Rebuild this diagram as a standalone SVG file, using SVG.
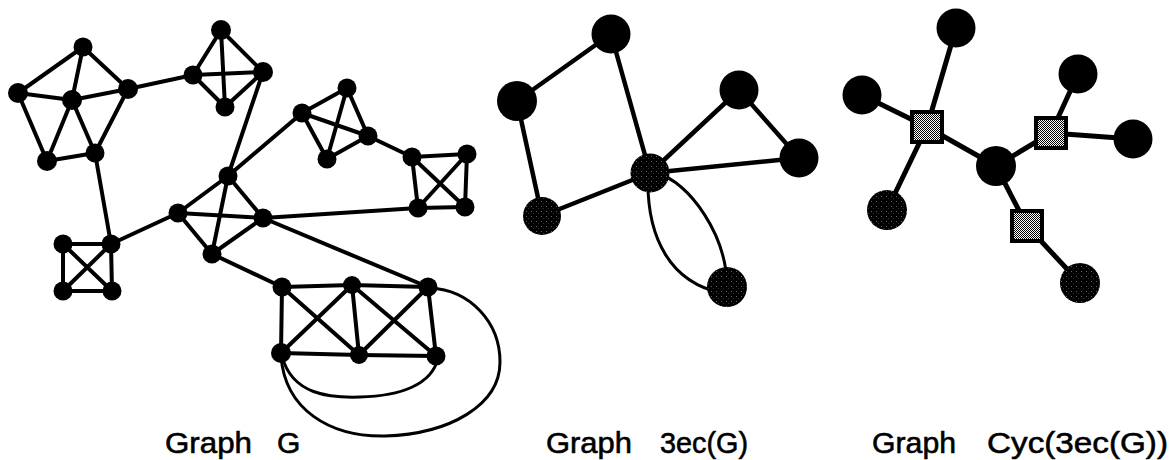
<svg xmlns="http://www.w3.org/2000/svg" width="1173" height="460" viewBox="0 0 1173 460">
<defs>
<pattern id="stip" width="5" height="5" patternUnits="userSpaceOnUse">
<rect width="5" height="5" fill="#000"/>
<rect x="1" y="1" width="1" height="1" fill="#666"/>
<rect x="3" y="3" width="1" height="1" fill="#333"/>
</pattern>
<pattern id="check" width="2" height="2" patternUnits="userSpaceOnUse">
<rect width="2" height="2" fill="#fff"/>
<rect width="1" height="1" fill="#000"/>
<rect x="1" y="1" width="1" height="1" fill="#000"/>
</pattern>
</defs>
<style>
.e{stroke:#000;stroke-width:4;stroke-linecap:round;fill:none}
.m{stroke-width:4.5}
.r{stroke-width:5}
.c{stroke:#000;stroke-width:3;fill:none}
.n{fill:#000}
.b{fill:#000}
.g{fill:url(#stip)}
.sq{fill:url(#check);stroke:#000;stroke-width:4}
.t{font-family:"Liberation Sans",Arial,sans-serif;font-size:30px;fill:#000;stroke:#000;stroke-width:0.6}
</style>
<g id="connectors">
<g class="e">
<line x1="83" y1="47" x2="18" y2="93"/>
<line x1="83" y1="47" x2="72" y2="100"/>
<line x1="83" y1="47" x2="128" y2="89"/>
<line x1="18" y1="93" x2="72" y2="100"/>
<line x1="18" y1="93" x2="47" y2="161"/>
<line x1="72" y1="100" x2="47" y2="161"/>
<line x1="72" y1="100" x2="95" y2="153"/>
<line x1="72" y1="100" x2="128" y2="89"/>
<line x1="128" y1="89" x2="95" y2="153"/>
<line x1="47" y1="161" x2="95" y2="153"/>
<line x1="128" y1="89" x2="193" y2="75"/>
<line x1="221" y1="30" x2="193" y2="75"/>
<line x1="221" y1="30" x2="263" y2="72"/>
<line x1="221" y1="30" x2="225" y2="107"/>
<line x1="193" y1="75" x2="263" y2="72"/>
<line x1="193" y1="75" x2="225" y2="107"/>
<line x1="263" y1="72" x2="225" y2="107"/>
<line x1="263" y1="72" x2="228" y2="176"/>
<line x1="95" y1="153" x2="111" y2="244"/>
<line x1="63" y1="244" x2="111" y2="244"/>
<line x1="63" y1="244" x2="63" y2="291"/>
<line x1="111" y1="244" x2="112" y2="291"/>
<line x1="63" y1="291" x2="112" y2="291"/>
<line x1="63" y1="244" x2="112" y2="291"/>
<line x1="111" y1="244" x2="63" y2="291"/>
<line x1="111" y1="244" x2="178" y2="213"/>
<line x1="228" y1="176" x2="178" y2="213"/>
<line x1="228" y1="176" x2="263" y2="218"/>
<line x1="228" y1="176" x2="212" y2="254"/>
<line x1="178" y1="213" x2="263" y2="218"/>
<line x1="178" y1="213" x2="212" y2="254"/>
<line x1="263" y1="218" x2="212" y2="254"/>
<line x1="228" y1="176" x2="302" y2="113"/>
<line x1="302" y1="113" x2="347" y2="88"/>
<line x1="302" y1="113" x2="368" y2="136"/>
<line x1="302" y1="113" x2="327" y2="159"/>
<line x1="347" y1="88" x2="368" y2="136"/>
<line x1="347" y1="88" x2="327" y2="159"/>
<line x1="368" y1="136" x2="327" y2="159"/>
<line x1="368" y1="136" x2="412" y2="157"/>
<line x1="412" y1="157" x2="467" y2="154"/>
<line x1="412" y1="157" x2="418" y2="208"/>
<line x1="467" y1="154" x2="465" y2="207"/>
<line x1="418" y1="208" x2="465" y2="207"/>
<line x1="412" y1="157" x2="465" y2="207"/>
<line x1="467" y1="154" x2="418" y2="208"/>
<line x1="263" y1="218" x2="418" y2="208"/>
<line x1="212" y1="254" x2="282" y2="287"/>
<line x1="263" y1="218" x2="428" y2="287"/>
<line x1="282" y1="287" x2="352" y2="285"/>
<line x1="352" y1="285" x2="428" y2="287"/>
<line x1="282" y1="287" x2="281" y2="353"/>
<line x1="281" y1="353" x2="359" y2="355"/>
<line x1="359" y1="355" x2="436" y2="356"/>
<line x1="428" y1="287" x2="436" y2="356"/>
<line x1="282" y1="287" x2="359" y2="355"/>
<line x1="352" y1="285" x2="281" y2="353"/>
<line x1="352" y1="285" x2="359" y2="355"/>
<line x1="352" y1="285" x2="436" y2="356"/>
<line x1="428" y1="287" x2="359" y2="355"/>
</g>
<path class="c" d="M282,356 C292,395 330,398 360,397 C400,396 432,385 438,358"/>
<path class="c" d="M281,356 C285,410 330,437 385,436 C450,434 500,405 500,362 C500,322 470,290 430,288"/>
<g class="e m">
<line x1="611" y1="34" x2="517" y2="101"/>
<line x1="611" y1="34" x2="650" y2="173"/>
<line x1="517" y1="101" x2="542" y2="216"/>
<line x1="542" y1="216" x2="650" y2="173"/>
<line x1="650" y1="173" x2="739" y2="90"/>
<line x1="739" y1="90" x2="799" y2="158"/>
<line x1="650" y1="173" x2="799" y2="158"/>
</g>
<path class="c" d="M648,175 C646,240 672,283 722,293"/>
<path class="c" d="M655,172 C692,184 726,236 727,285"/>
<g class="e r">
<line x1="927" y1="127" x2="956" y2="28"/>
<line x1="927" y1="127" x2="862" y2="95"/>
<line x1="927" y1="127" x2="887" y2="210"/>
<line x1="927" y1="127" x2="996" y2="166"/>
<line x1="996" y1="166" x2="1051" y2="133"/>
<line x1="1051" y1="133" x2="1078" y2="74"/>
<line x1="1051" y1="133" x2="1133" y2="139"/>
<line x1="996" y1="166" x2="1027" y2="226"/>
<line x1="1027" y1="226" x2="1080" y2="283"/>
</g>
</g>
<g id="graphG-nodes" class="n">
<circle id="gA" cx="83" cy="47" r="9.5"/>
<circle id="gB" cx="18" cy="93" r="10"/>
<circle id="gC" cx="72" cy="100" r="10"/>
<circle id="gD" cx="128" cy="89" r="10"/>
<circle id="gE" cx="47" cy="161" r="10"/>
<circle id="gF" cx="95" cy="153" r="9.5"/>
<circle id="gT" cx="221" cy="30" r="10"/>
<circle id="gL" cx="193" cy="75" r="9.5"/>
<circle id="gR" cx="263" cy="72" r="10"/>
<circle id="gBt" cx="225" cy="107" r="9.5"/>
<circle id="gP" cx="302" cy="113" r="9.5"/>
<circle id="gQ" cx="347" cy="88" r="9.5"/>
<circle id="gS" cx="368" cy="136" r="9.5"/>
<circle id="gU" cx="327" cy="159" r="9.5"/>
<circle id="gSA" cx="412" cy="157" r="9.5"/>
<circle id="gSB" cx="467" cy="154" r="9.5"/>
<circle id="gSC" cx="418" cy="208" r="9.5"/>
<circle id="gSD" cx="465" cy="207" r="9.5"/>
<circle id="gLA" cx="63" cy="244" r="9.5"/>
<circle id="gLB" cx="111" cy="244" r="9.5"/>
<circle id="gLC" cx="63" cy="291" r="9.5"/>
<circle id="gLD" cx="112" cy="291" r="9.5"/>
<circle id="gCT" cx="228" cy="176" r="9.5"/>
<circle id="gCL" cx="178" cy="213" r="9.5"/>
<circle id="gCR" cx="263" cy="218" r="9.5"/>
<circle id="gCB" cx="212" cy="254" r="9.5"/>
<circle id="gRTL" cx="282" cy="287" r="9.5"/>
<circle id="gRTM" cx="352" cy="285" r="9"/>
<circle id="gRTR" cx="428" cy="287" r="9.5"/>
<circle id="gRBL" cx="281" cy="353" r="10"/>
<circle id="gRBM" cx="359" cy="355" r="9"/>
<circle id="gRBR" cx="436" cy="356" r="9.5"/>
</g>
<g id="graph3ec-nodes">
<circle id="m1" class="b" cx="611" cy="34" r="19.5"/>
<circle id="m2" class="b" cx="517" cy="101" r="20"/>
<circle id="m3" class="g" cx="650" cy="173" r="19.5"/>
<circle id="m4" class="g" cx="542" cy="216" r="19"/>
<circle id="m5" class="b" cx="739" cy="90" r="19.5"/>
<circle id="m6" class="b" cx="799" cy="158" r="19.5"/>
<circle id="m7" class="g" cx="727" cy="287" r="20"/>
</g>
<g id="graphCyc-nodes">
<circle id="c1" class="b" cx="956" cy="28" r="19.5"/>
<circle id="c2" class="b" cx="862" cy="95" r="19.5"/>
<circle id="c3" class="g" cx="887" cy="210" r="20"/>
<circle id="c0" class="b" cx="996" cy="166" r="20"/>
<circle id="c4" class="b" cx="1078" cy="74" r="19.5"/>
<circle id="c5" class="b" cx="1133" cy="139" r="19.5"/>
<circle id="c6" class="g" cx="1080" cy="283" r="20"/>
<rect id="s1" class="sq" x="912" y="112" width="30" height="30"/>
<rect id="s2" class="sq" x="1036" y="118" width="30" height="30"/>
<rect id="s3" class="sq" x="1012" y="211" width="30" height="30"/>
</g>
<g id="labels" class="t">
<text x="165" y="453" textLength="87" lengthAdjust="spacingAndGlyphs">Graph</text>
<text x="277" y="453">G</text>
<text x="546" y="453" textLength="86" lengthAdjust="spacingAndGlyphs">Graph</text>
<text x="660" y="453" textLength="88" lengthAdjust="spacingAndGlyphs">3ec(G)</text>
<text x="872" y="453" textLength="84" lengthAdjust="spacingAndGlyphs">Graph</text>
<text x="987" y="453" textLength="181" lengthAdjust="spacingAndGlyphs">Cyc(3ec(G))</text>
</g>
</svg>
